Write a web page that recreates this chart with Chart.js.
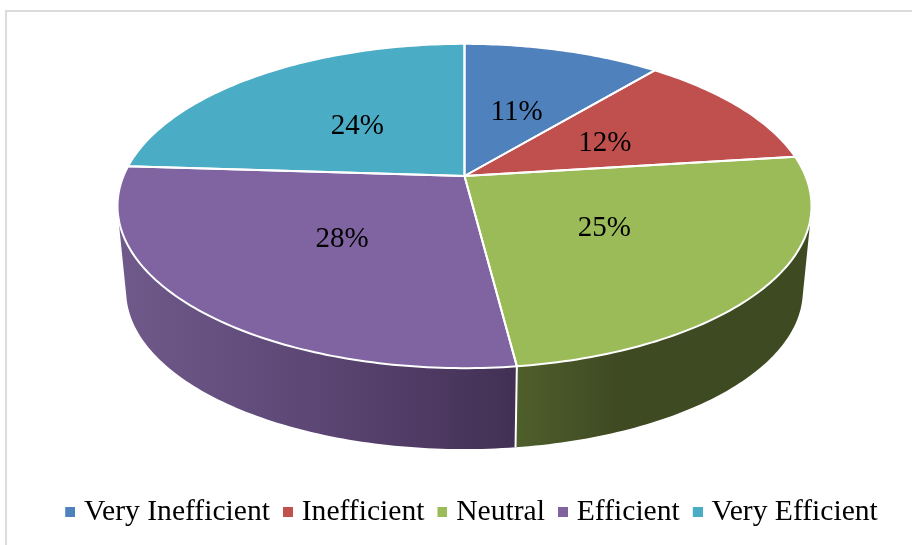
<!DOCTYPE html>
<html>
<head>
<meta charset="utf-8">
<title>Efficiency pie</title>
<style>
  html, body { margin: 0; padding: 0; background: #fff; }
  canvas { display: block; }
</style>
<script src="https://cdn.jsdelivr.net/npm/chart.js@4/dist/chart.umd.min.js"></script>
</head>
<body>
<canvas id="pie" width="912" height="545"></canvas>
<script>
// Chart data
const categories = ['Very Inefficient', 'Inefficient', 'Neutral', 'Efficient', 'Very Efficient'];
const shares = [11, 12, 25, 28, 24];
const sliceColors = ['#4f81bd', '#c0504d', '#9bbb59', '#8064a2', '#4bacc6'];
// Side wall shades, left to right
const wallShades = [
    ['#3f5d85', '#2c4160'],
    ['#8a3a38', '#652a28'],
    ['#4f5f2b', '#3f4a23', '#3e4a22', '#3e4a22'],
    ['#705a8b', '#5c4674', '#423054'],
    ['#37808f', '#2a6270']
];

// Tilted disc: a circle seen in perspective, so the pie's hub sits above the ellipse middle
const hubX = 464.5, hubY = 176;
const spreadX = 341, spreadY = 156.6, tilt = 0.185;
const rimMiddleY = 206;
const wallDepth = 85, wallTaper = 0.975;

// angle is the chart.js arc angle (-PI/2 is twelve o'clock), reach 1 is the rim
function project(angle, reach) {
    const u = Math.cos(angle) * reach;
    const v = -Math.sin(angle) * reach;
    const w = 1 + tilt * v;
    return { x: hubX + spreadX * u / w, y: hubY - spreadY * v / w };
}

function wallFoot(p) {
    return {
        x: hubX + (p.x - hubX) * wallTaper,
        y: rimMiddleY + (p.y - rimMiddleY) * wallTaper + wallDepth
    };
}

function rimPoints(arc) {
    const steps = Math.ceil((arc.endAngle - arc.startAngle) * 60);
    const pts = [];
    for (let s = 0; s <= steps; s++) {
        pts.push(project(arc.startAngle + (arc.endAngle - arc.startAngle) * s / steps, 1));
    }
    return pts;
}

function drawWall(ctx, arc, shades) {
    const pts = rimPoints(arc);
    const xs = pts.map(p => p.x);
    const grad = ctx.createLinearGradient(Math.min(...xs), 0, Math.max(...xs), 0);
    shades.forEach((c, i) => grad.addColorStop(i / (shades.length - 1), c));
    ctx.fillStyle = grad;
    // small quads, all wound the same way and filled as one path, so the
    // outline follows the tangent between rim and foot without seams
    ctx.beginPath();
    for (let i = 0; i < pts.length - 1; i++) {
        const quad = [pts[i], pts[i + 1], wallFoot(pts[i + 1]), wallFoot(pts[i])];
        let area = 0;
        quad.forEach((p, k) => {
            const q = quad[(k + 1) % 4];
            area += p.x * q.y - q.x * p.y;
        });
        if (area < 0) quad.reverse();
        quad.forEach((p, k) => (k ? ctx.lineTo(p.x, p.y) : ctx.moveTo(p.x, p.y)));
        ctx.closePath();
    }
    ctx.fill();
}

function traceSlice(ctx, arc) {
    ctx.beginPath();
    ctx.moveTo(hubX, hubY);
    rimPoints(arc).forEach(p => ctx.lineTo(p.x, p.y));
    ctx.closePath();
}

// Replaces the flat arc drawing with the extruded disc
const discPlugin = {
    id: 'disc',
    beforeDraw(chart) {
        const ctx = chart.ctx;
        ctx.save();
        ctx.strokeStyle = '#dcdcdc';
        ctx.lineWidth = 2;
        ctx.strokeRect(6, 11, 960, 600);
        ctx.restore();
    },
    beforeDatasetsDraw(chart) {
        const ctx = chart.ctx;
        const arcs = chart.getDatasetMeta(0).data;
        ctx.save();

        // walls first, back slices before front ones
        [0, 1, 4, 2, 3].forEach(i => drawWall(ctx, arcs[i], wallShades[i]));

        // white seams where visible walls meet
        ctx.strokeStyle = '#fff';
        ctx.lineWidth = 2;
        [arcs[2].startAngle, arcs[3].startAngle, arcs[3].endAngle].forEach(angle => {
            const top = project(angle, 1);
            if (top.y > rimMiddleY) {
                const foot = wallFoot(top);
                ctx.beginPath();
                ctx.moveTo(top.x, top.y);
                ctx.lineTo(foot.x, foot.y);
                ctx.stroke();
            }
        });

        // top face
        arcs.forEach((arc, i) => {
            traceSlice(ctx, arc);
            ctx.fillStyle = sliceColors[i];
            ctx.fill();
        });
        ctx.lineJoin = 'round';
        arcs.forEach(arc => {
            traceSlice(ctx, arc);
            ctx.stroke();
        });

        // percentage labels about halfway along each slice
        ctx.fillStyle = '#000';
        ctx.font = '29px "Liberation Serif"';
        ctx.textAlign = 'center';
        ctx.textBaseline = 'middle';
        arcs.forEach((arc, i) => {
            const p = project((arc.startAngle + arc.endAngle) / 2, 0.49);
            ctx.fillText(shares[i] + '%', p.x, p.y + 3);
        });

        ctx.restore();
        return false;
    }
};

// Legend swatch: the empty left part keeps the square flush with the item start
function legendSwatch(color) {
    const c = document.createElement('canvas');
    c.width = 16;
    c.height = 10;
    const g = c.getContext('2d');
    g.fillStyle = color;
    g.fillRect(6, 0, 10, 10);
    return c;
}

new Chart(document.getElementById('pie'), {
    type: 'pie',
    data: {
        labels: categories,
        datasets: [{ data: shares, backgroundColor: sliceColors, borderWidth: 0 }]
    },
    options: {
        responsive: false,
        animation: false,
        layout: { padding: { left: 31, bottom: 8 } },
        plugins: {
            tooltip: { enabled: false },
            legend: {
                position: 'bottom',
                labels: {
                    usePointStyle: true,
                    pointStyleWidth: 4,
                    padding: 13,
                    color: '#000',
                    font: { family: '"Liberation Serif"', size: 29.6 },
                    generateLabels: () => categories.map((text, i) => ({
                        text,
                        index: i,
                        hidden: false,
                        fontColor: '#000',
                        fillStyle: sliceColors[i],
                        strokeStyle: sliceColors[i],
                        lineWidth: 0,
                        pointStyle: legendSwatch(sliceColors[i])
                    }))
                }
            }
        }
    },
    plugins: [discPlugin]
});
</script>
</body>
</html>
